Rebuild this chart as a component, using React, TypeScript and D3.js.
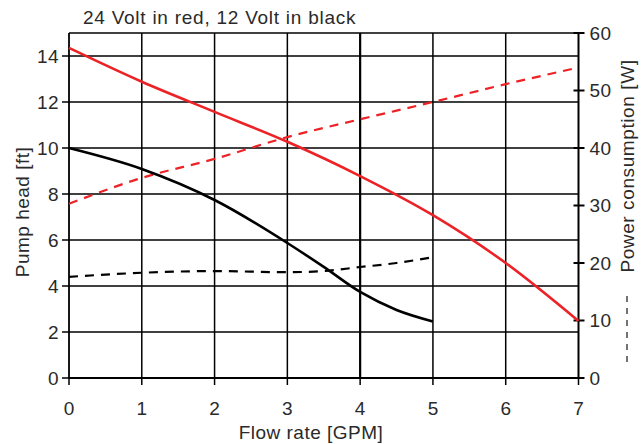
import React from "react";
import * as d3 from "d3";

const flowTicks = [0, 1, 2, 3, 4, 5, 6, 7];
const headTicks = [0, 2, 4, 6, 8, 10, 12, 14];
const powerTicks = [0, 10, 20, 30, 40, 50, 60];

// 24 V head (ft)
const head24X = [0, 1, 2, 3, 4, 5, 6, 7];
const head24Y = [14.35, 12.88, 11.57, 10.27, 8.78, 7.08, 5.0, 2.48];
// 12 V head (ft)
const head12X = [0, 1, 2, 3, 3.5, 4, 4.5, 5];
const head12Y = [10.0, 9.09, 7.74, 5.87, 4.83, 3.74, 2.96, 2.46];
// 24 V power (W)
const power24X = [0, 1, 2, 3, 4, 5, 6, 7];
const power24Y = [30.3, 34.8, 38.1, 41.9, 45.0, 48.0, 51.1, 54.0];
// 12 V power (W)
const power12X = [0, 1, 2, 3, 3.5, 4, 4.5, 5];
const power12Y = [17.6, 18.3, 18.6, 18.4, 18.6, 19.3, 20.0, 21.0];

const W = 644;
const H = 444;
const left = 69;
const right = 578.5;
const top = 33;
const bottom = 378;
const RED = "#ec2227";
const TXT = "#2a2a2a";
const FONT = "'Liberation Sans', Arial, sans-serif";

export default function App() {
  const x = d3.scaleLinear().domain([0, 7]).range([left, right]);
  const yL = d3.scaleLinear().domain([0, 15]).range([bottom, top]);
  const yR = d3.scaleLinear().domain([0, 60]).range([bottom, top]);

  const mk = (xs: number[], ys: number[], ys2: (v: number) => number) =>
    d3
      .line<number>()
      .x((_, i) => x(xs[i]))
      .y((_, i) => ys2(ys[i]))
      .curve(d3.curveMonotoneX)(ys) as string;

  const hGrid = [2, 4, 6, 8, 10, 12, 14];
  const vGrid = [1, 2, 3, 4, 5, 6];

  return (
    <svg
      width={W}
      height={H}
      style={{ position: "absolute", left: 0, top: 0, background: "#fff" }}
      fontFamily={FONT}
    >
      {/* grid */}
      {hGrid.map((g) => (
        <line key={"h" + g} x1={left} x2={right} y1={yL(g)} y2={yL(g)} stroke="#000" strokeWidth={1.5} />
      ))}
      {vGrid.map((g) => (
        <line
          key={"v" + g}
          x1={x(g)}
          x2={x(g)}
          y1={top}
          y2={bottom}
          stroke="#000"
          strokeWidth={g === 4 ? 2.2 : 1.5}
        />
      ))}
      {/* frame */}
      <line x1={left} x2={right} y1={top} y2={top} stroke="#000" strokeWidth={1.5} />
      <line x1={left} x2={right} y1={bottom} y2={bottom} stroke="#000" strokeWidth={1.8} />
      <line x1={left} x2={left} y1={top} y2={bottom} stroke="#000" strokeWidth={1.8} />
      <line x1={right} x2={right} y1={top} y2={bottom} stroke="#000" strokeWidth={2} />

      {/* left ticks */}
      {headTicks.map((t) => (
        <g key={"lt" + t}>
          <line x1={left - 7} x2={left} y1={yL(t)} y2={yL(t)} stroke="#000" strokeWidth={1.5} />
          <text x={left - 10} y={yL(t)} dy="0.35em" textAnchor="end" fontSize={19} letterSpacing={0.4} fill={TXT}>
            {t}
          </text>
        </g>
      ))}
      {/* right ticks */}
      {powerTicks.map((t) => (
        <g key={"rt" + t}>
          <line x1={right - 5} x2={right + 6} y1={yR(t)} y2={yR(t)} stroke="#000" strokeWidth={2} />
          <text x={right + 11} y={yR(t)} dy="0.35em" textAnchor="start" fontSize={19} letterSpacing={0.4} fill={TXT}>
            {t}
          </text>
        </g>
      ))}
      {/* bottom ticks */}
      {flowTicks.map((t) => (
        <g key={"bt" + t}>
          <line x1={x(t)} x2={x(t)} y1={bottom} y2={bottom + 7} stroke="#000" strokeWidth={1.5} />
          <text x={x(t)} y={bottom + 37} textAnchor="middle" fontSize={19} fill={TXT}>
            {t}
          </text>
        </g>
      ))}

      {/* curves */}
      <path d={mk(power24X, power24Y, yR)} fill="none" stroke={RED} strokeWidth={2.2} strokeDasharray="9,7" />
      <path d={mk(power12X, power12Y, yR)} fill="none" stroke="#000" strokeWidth={2.2} strokeDasharray="9,7" />
      <path d={mk(head24X, head24Y, yL)} fill="none" stroke={RED} strokeWidth={2.6} />
      <path d={mk(head12X, head12Y, yL)} fill="none" stroke="#000" strokeWidth={2.6} />

      {/* labels */}
      <text x={83} y={24} fontSize={19} letterSpacing={0.75} fill={TXT}>
        24 Volt in red, 12 Volt in black
      </text>
      <text x={311} y={439} textAnchor="middle" fontSize={19} letterSpacing={0.5} fill={TXT}>
        Flow rate [GPM]
      </text>
      <text
        transform={`translate(29,212) rotate(-90)`}
        textAnchor="middle"
        fontSize={19}
        letterSpacing={0.5}
        fill={TXT}
      >
        Pump head [ft]
      </text>
      <text transform={`translate(634,166) rotate(-90)`} textAnchor="middle" fontSize={19} letterSpacing={0.6} fill={TXT}>
        Power consumption [W]
      </text>
      <line x1={627} x2={627} y1={362} y2={293} stroke={TXT} strokeWidth={1.3} strokeDasharray="6,6" />
    </svg>
  );
}
